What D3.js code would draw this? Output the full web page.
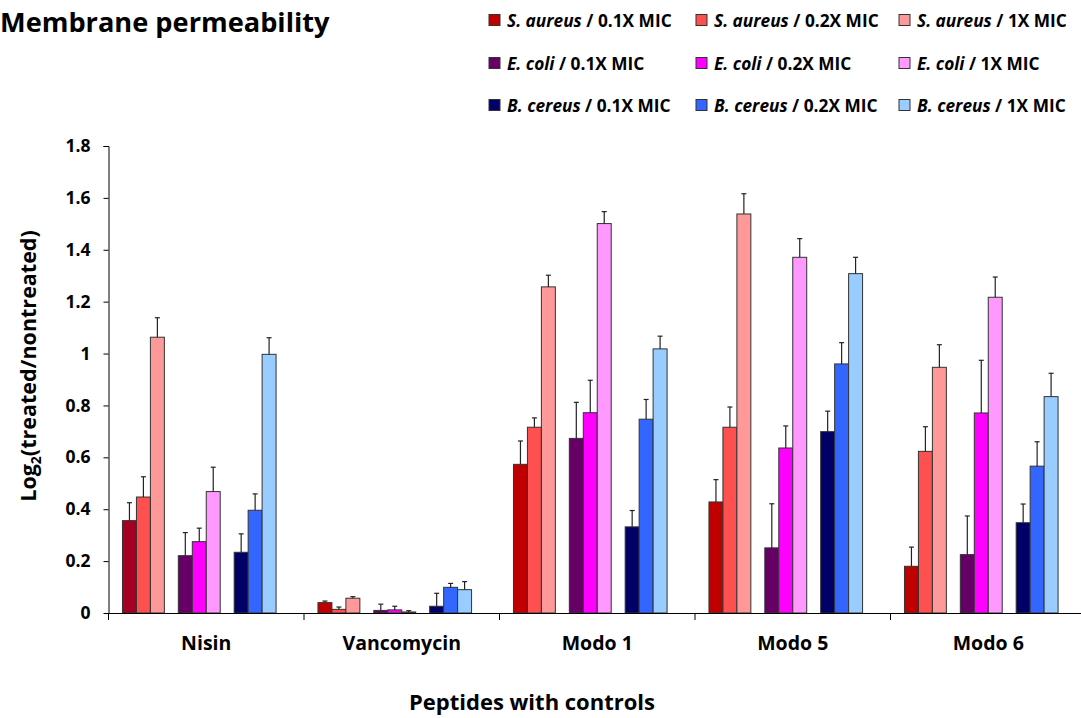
<!DOCTYPE html>
<html>
<head>
<meta charset="utf-8">
<script src="https://cdn.jsdelivr.net/npm/d3@7"></script>
<style>
  body { margin: 0; background: #fff; }
  svg text { font-family: "Open Sans", Lato, sans-serif; font-weight: bold; fill: #000; }
</style>
</head>
<body>
<svg id="chart" width="1081" height="718"></svg>
<script>
const categories = ["Nisin", "Vancomycin", "Modo 1", "Modo 5", "Modo 6"]
const organisms = ["S. aureus", "E. coli", "B. cereus"]
const doses = ["0.1X MIC", "0.2X MIC", "1X MIC"]
const yTicks = [0, 0.2, 0.4, 0.6, 0.8, 1, 1.2, 1.4, 1.6, 1.8]

// means, one array per series (organism / dose)
const saureus01 = [0.356, 0.040, 0.573, 0.428, 0.180]
const saureus02 = [0.447, 0.014, 0.716, 0.716, 0.623]
const saureus1  = [1.063, 0.057, 1.257, 1.538, 0.947]
const ecoli01   = [0.221, 0.010, 0.673, 0.251, 0.225]
const ecoli02   = [0.275, 0.012, 0.772, 0.636, 0.771]
const ecoli1    = [0.468, 0.004, 1.501, 1.371, 1.217]
const bcereus01 = [0.234, 0.026, 0.332, 0.699, 0.348]
const bcereus02 = [0.396, 0.099, 0.747, 0.960, 0.566]
const bcereus1  = [0.997, 0.090, 1.018, 1.308, 0.834]

// standard deviations (upper error bars)
const saureus01Err = [0.069, 0.006, 0.090, 0.086, 0.074]
const saureus02Err = [0.078, 0.009, 0.036, 0.078, 0.095]
const saureus1Err  = [0.075, 0.006, 0.045, 0.078, 0.087]
const ecoli01Err   = [0.089, 0.024, 0.139, 0.170, 0.149]
const ecoli02Err   = [0.052, 0.014, 0.125, 0.085, 0.203]
const ecoli1Err    = [0.094, 0.005, 0.046, 0.072, 0.078]
const bcereus01Err = [0.071, 0.050, 0.063, 0.079, 0.072]
const bcereus02Err = [0.063, 0.015, 0.076, 0.082, 0.094]
const bcereus1Err  = [0.064, 0.031, 0.049, 0.063, 0.090]

const colors = ["#C00000", "#FF5050", "#FF9999",
                "#660066", "#FF00FF", "#FF99FF",
                "#000066", "#3366FF", "#99CCFF"]

const seriesValues = [saureus01, saureus02, saureus1, ecoli01, ecoli02, ecoli1, bcereus01, bcereus02, bcereus1]
const seriesErrors = [saureus01Err, saureus02Err, saureus1Err, ecoli01Err, ecoli02Err, ecoli1Err, bcereus01Err, bcereus02Err, bcereus1Err]

const series = []
organisms.forEach((org, o) => {
  doses.forEach((dose, d) => {
    const i = o * 3 + d
    series.push({org, dose, color: colors[i], slot: o * 4 + d, values: seriesValues[i], errors: seriesErrors[i]})
  })
})

const svg = d3.select("#chart")

const x = d3.scaleBand().domain(categories).range([108.5, 108.5 + 5 * 195.5])
// 12 slots per category, every 4th one left empty between organisms
const xSlot = d3.scaleBand().domain(d3.range(12)).range([0, x.bandwidth()]).paddingOuter(1)
const y = d3.scaleLinear().domain([0, 1.8]).range([613, 146])

// y axis
svg.append("g")
  .attr("transform", "translate(108.5,0)")
  .call(d3.axisLeft(y).tickValues(yTicks).tickSize(5).tickFormat(d => d3.format("~g")(d)))
  .call(g => g.select(".domain").attr("stroke", "#000").attr("d", "M-5,146.5H0.5V613.5"))
  .call(g => g.selectAll(".tick line").attr("stroke", "#000"))
  .call(g => g.selectAll(".tick text").attr("font-size", 17.5).attr("font-family", null).attr("x", -18))

// bars
const cells = []
series.forEach(s => {
  categories.forEach((c, ci) => {
    cells.push({cat: c, s, value: s.values[ci], err: s.errors[ci], first: ci === 0})
  })
})

const barColor = d => (d.first && d.s.slot === 0) ? "#A50021" : d.s.color

svg.append("g").selectAll("rect")
  .data(cells)
  .enter()
  .append("rect")
  .attr("x", d => x(d.cat) + xSlot(d.s.slot))
  .attr("y", d => y(d.value))
  .attr("width", xSlot.bandwidth())
  .attr("height", d => y(0) - y(d.value))
  .attr("fill", barColor)
  .attr("stroke", "#333")
  .attr("stroke-width", 1)

// error bars
const errG = svg.append("g").attr("stroke", "#222").attr("stroke-width", 1.2)
cells.forEach(d => {
  const cx = x(d.cat) + xSlot(d.s.slot) + xSlot.bandwidth() / 2
  errG.append("line").attr("x1", cx).attr("x2", cx).attr("y1", y(d.value)).attr("y2", y(d.value + d.err))
  errG.append("line").attr("x1", cx - 2.5).attr("x2", cx + 2.5).attr("y1", y(d.value + d.err)).attr("y2", y(d.value + d.err))
})

// x axis
svg.append("line").attr("x1", 108).attr("x2", 1081).attr("y1", 613.5).attr("y2", 613.5).attr("stroke", "#000")
const bounds = categories.map(c => x(c)).concat([x(categories[4]) + x.bandwidth()])
svg.append("g").selectAll("line")
  .data(bounds)
  .enter()
  .append("line")
  .attr("x1", d => d).attr("x2", d => d)
  .attr("y1", 613).attr("y2", 620)
  .attr("stroke", "#000")

svg.append("g").selectAll("text")
  .data(categories)
  .enter()
  .append("text")
  .attr("x", d => x(d) + x.bandwidth() / 2)
  .attr("y", 650)
  .attr("text-anchor", "middle")
  .attr("font-size", 19.5)
  .text(d => d)

// axis titles
svg.append("text")
  .attr("x", 532).attr("y", 710)
  .attr("text-anchor", "middle")
  .attr("font-size", 22)
  .text("Peptides with controls")

const yt = svg.append("text")
  .attr("transform", "translate(36,366) rotate(-90)")
  .attr("text-anchor", "middle")
  .attr("font-size", 21.5)
yt.append("tspan").text("Log")
yt.append("tspan").attr("font-size", 14).attr("dy", 5).text("2")
yt.append("tspan").attr("dy", -5).text("(treated/nontreated)")

// title
svg.append("text")
  .attr("x", 0).attr("y", 32)
  .attr("font-size", 27.2)
  .text("Membrane permeability")

// legend
const legX = [489, 696, 899]
const legY = [20, 63, 105]
const leg = svg.append("g").selectAll("g")
  .data(series)
  .enter()
  .append("g")
  .attr("transform", (d, i) => `translate(${legX[i % 3]},${legY[Math.floor(i / 3)]})`)
leg.append("rect")
  .attr("x", 0).attr("y", -5.5).attr("width", 11).attr("height", 11)
  .attr("fill", d => d.color).attr("stroke", "#333")
const lt = leg.append("text").attr("x", 18).attr("y", 6.5).attr("font-size", 17.3)
lt.append("tspan").attr("font-style", "italic").text(d => d.org)
lt.append("tspan").text(d => " / " + d.dose)
</script>
</body>
</html>
